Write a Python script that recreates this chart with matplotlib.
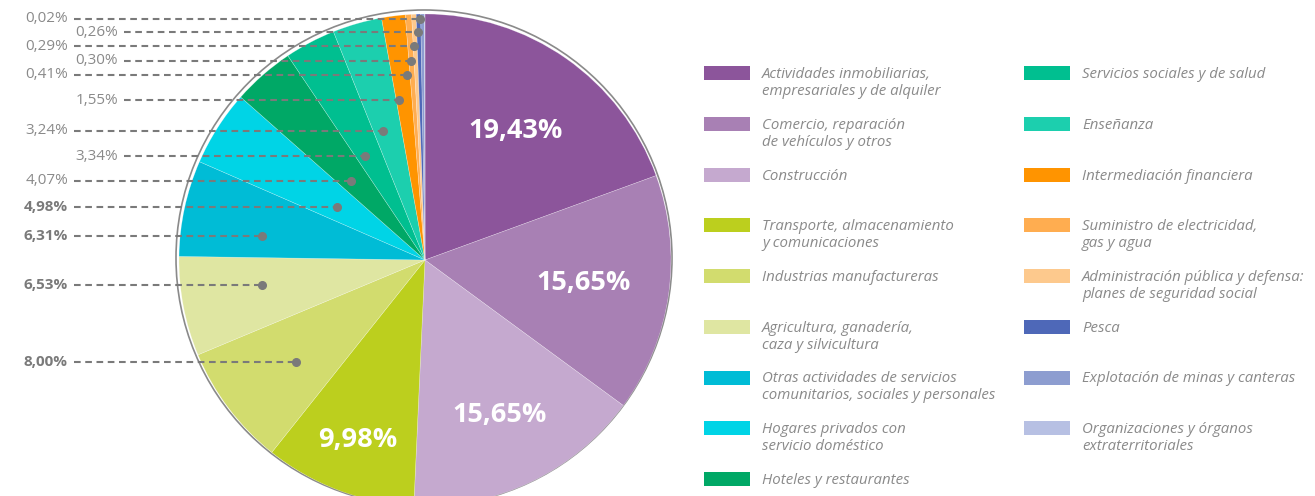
import numpy as np
import matplotlib
matplotlib.use("Agg")
import matplotlib.pyplot as plt
from matplotlib.patches import Rectangle, Circle

plt.rcParams['font.family'] = ['Open Sans', 'DejaVu Sans']

# data (clockwise from 12 o'clock)
sectores = [
    "Actividades inmobiliarias,\nempresariales y de alquiler",
    "Comercio, reparación\nde vehículos y otros",
    "Construcción",
    "Transporte, almacenamiento\ny comunicaciones",
    "Industrias manufactureras",
    "Agricultura, ganadería,\ncaza y silvicultura",
    "Otras actividades de servicios\ncomunitarios, sociales y personales",
    "Hogares privados con\nservicio doméstico",
    "Hoteles y restaurantes",
    "Servicios sociales y de salud",
    "Enseñanza",
    "Intermediación financiera",
    "Suministro de electricidad,\ngas y agua",
    "Administración pública y defensa:\nplanes de seguridad social",
    "Pesca",
    "Explotación de minas y canteras",
    "Organizaciones y órganos\nextraterritoriales",
]
porcentajes = [19.43, 15.65, 15.65, 9.98, 8.00, 6.53, 6.31, 4.98, 4.07,
               3.34, 3.24, 1.55, 0.41, 0.30, 0.29, 0.26, 0.02]
colores = ["#8c559b", "#a880b4", "#c5a9cf", "#bccf1e", "#d2dc6e", "#dfe6a2",
           "#00bcd6", "#00d4e6", "#00a866", "#00bf90", "#1ccfae", "#ff9400",
           "#ffad50", "#fdc98d", "#4e68b8", "#8d9dd0", "#b7c0e3"]

# layout (pixels, top-left origin)
W, H = 1315, 496
cx, cy, R = 425, H - 260, 246
inside_min = 9.0                       # slices labelled inside the pie
left_label_y = {16: 19, 15: 32, 14: 46, 13: 61, 12: 75, 11: 100, 10: 131,
                9: 156, 8: 181, 7: 207, 6: 236, 5: 285, 4: 362}
shifted = {15, 13, 11, 9}
bold = {7, 6, 5, 4}
grey = "#7a7a7a"
light_grey = "#8a8a8a"


def fmt(v):
    return f"{v:.2f}".replace(".", ",") + "%"


fig = plt.figure(figsize=(W / 100, H / 100), dpi=100)
ax = fig.add_axes([0, 0, 1, 1])

# outline ring behind the pie
ax.add_patch(Circle((cx - 1, cy + 2), R + 2, facecolor="none", edgecolor="#8a8a8a",
                    linewidth=1.2, zorder=1))

wedges, _ = ax.pie(porcentajes, colors=colores, startangle=90, counterclock=False,
                   center=(cx, cy), radius=R, frame=True,
                   wedgeprops=dict(linewidth=0.4, edgecolor=(1, 1, 1, 0.35)))
for w in wedges:
    w.set_zorder(2)
ax.set_xlim(0, W)
ax.set_ylim(0, H)
ax.axis("off")

# labels inside the big slices
inside_r = [0.64, 0.65, 0.70, 0.78]
for i, (w, v) in enumerate(zip(wedges, porcentajes)):
    mid = np.radians((w.theta1 + w.theta2) / 2)
    if v > inside_min:
        r = inside_r[i] * R
        ax.text(cx + r * np.cos(mid), cy + r * np.sin(mid), fmt(v), color="white",
                fontsize=19.5, fontweight="bold", ha="center", va="center", zorder=5)

# leader lines on the left
for i, ypx in left_label_y.items():
    w = wedges[i]
    mid = np.radians((w.theta1 + w.theta2) / 2)
    y = H - ypx
    dy = y - cy
    if porcentajes[i] > 6:
        dx = -np.sqrt((0.67 * R) ** 2 - dy ** 2)
    else:
        dx = dy / np.tan(mid) - 5
    xdot = cx + dx
    xr = 118 if i in shifted else 68
    ax.text(xr, y, fmt(porcentajes[i]), ha="right", va="center", fontsize=11,
            color=grey if i in bold else light_grey,
            fontweight="bold" if i in bold else "normal", zorder=6)
    ax.plot([xr + 6, xdot], [y, y], color=grey, linewidth=1.5,
            dashes=(3.2, 2.2), zorder=4)
    ax.plot([xdot], [y], "o", color=grey, markersize=5.5, zorder=5)

# legend in two columns
row_step = 50.75
for i, (name, col) in enumerate(zip(sectores, colores)):
    if i < 9:
        x0, row = 704, i
    else:
        x0, row = 1024, i - 9
    yc = H - (73 + row * row_step)
    ax.add_patch(Rectangle((x0, yc - 7), 46, 14, facecolor=col, edgecolor="none"))
    ax.text(x0 + 58, yc + 6, name, ha="left", va="top", fontsize=10.8,
            style="italic", color=light_grey, linespacing=1.18)

fig.savefig("out.png", dpi=100)
